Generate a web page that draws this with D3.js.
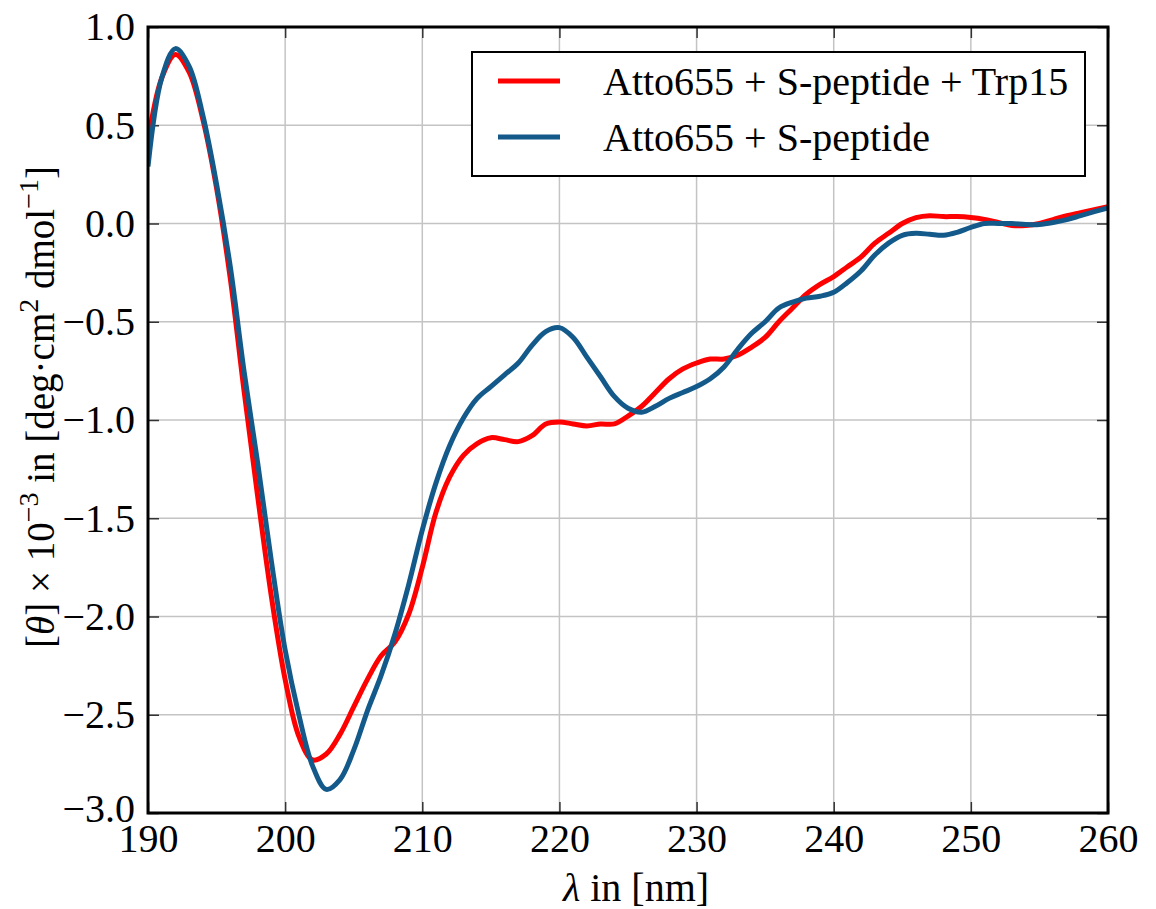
<!DOCTYPE html>
<html>
<head>
<meta charset="utf-8">
<script src="https://cdn.jsdelivr.net/npm/d3@7"></script>
<style>
  body { margin: 0; background: #fff; }
  svg { display: block; font-family: "Liberation Serif", "DejaVu Serif", serif; }
</style>
</head>
<body>
<div id="chart"></div>
<script>
// wavelength grid (nm)
const wavelengths = d3.range(190, 261);

// Atto655 + S-peptide + Trp15
const trp15 = [
  0.42, 0.74, 0.86, 0.77, 0.53, 0.18, -0.28, -0.85, -1.39, -1.90,
  -2.32, -2.61, -2.73, -2.70, -2.60, -2.46, -2.32, -2.20, -2.13, -1.99,
  -1.75, -1.47, -1.29, -1.18, -1.12, -1.09, -1.10, -1.11, -1.08, -1.02,
  -1.01, -1.02, -1.03, -1.02, -1.02, -0.98, -0.93, -0.86, -0.79, -0.74,
  -0.71, -0.69, -0.69, -0.67, -0.63, -0.58, -0.50, -0.43, -0.36, -0.31,
  -0.27, -0.22, -0.17, -0.10, -0.05, 0.00, 0.03, 0.04, 0.035, 0.035,
  0.03, 0.02, 0.005, -0.01, -0.01, 0.00, 0.02, 0.04, 0.055, 0.07,
  0.085
];

// Atto655 + S-peptide
const speptide = [
  0.29, 0.74, 0.89, 0.80, 0.55, 0.20, -0.22, -0.75, -1.22, -1.72,
  -2.17, -2.50, -2.76, -2.88, -2.83, -2.68, -2.48, -2.30, -2.09, -1.84,
  -1.56, -1.32, -1.13, -0.99, -0.89, -0.83, -0.77, -0.71, -0.62, -0.55,
  -0.53, -0.58, -0.68, -0.78, -0.88, -0.94, -0.96, -0.93, -0.89, -0.86,
  -0.83, -0.79, -0.73, -0.64, -0.56, -0.50, -0.43, -0.40, -0.38, -0.37,
  -0.35, -0.30, -0.24, -0.16, -0.10, -0.06, -0.05, -0.055, -0.06, -0.045,
  -0.02, 0.00, 0.00, 0.00, -0.005, -0.005, 0.005, 0.02, 0.04, 0.06,
  0.08
];

const xTicks = [190, 200, 210, 220, 230, 240, 250, 260];
const yTicks = [1.0, 0.5, 0.0, -0.5, -1.0, -1.5, -2.0, -2.5, -3.0];

const seriesNames = ["Atto655 + S-peptide + Trp15", "Atto655 + S-peptide"];
const seriesColors = ["#ff0000", "#135a8b"];
const seriesValues = [trp15, speptide];

const width = 1156, height = 909;
const margin = { top: 27, right: 48, bottom: 96, left: 148 };
const innerW = width - margin.left - margin.right;
const innerH = height - margin.top - margin.bottom;

const svg = d3.select("#chart").append("svg")
  .attr("width", width)
  .attr("height", height);

const g = svg.append("g").attr("transform", `translate(${margin.left},${margin.top})`);

const x = d3.scaleLinear().domain([190, 260]).range([0, innerW]);
const y = d3.scaleLinear().domain([-3, 1]).range([innerH, 0]);

// grid
g.append("g").selectAll("line")
  .data(xTicks.slice(1, -1)).enter().append("line")
  .attr("x1", d => x(d)).attr("x2", d => x(d))
  .attr("y1", 0).attr("y2", innerH)
  .attr("stroke", "#c4c4c4").attr("stroke-width", 1.5);
g.append("g").selectAll("line")
  .data(yTicks.slice(1, -1)).enter().append("line")
  .attr("x1", 0).attr("x2", innerW)
  .attr("y1", d => y(d)).attr("y2", d => y(d))
  .attr("stroke", "#c4c4c4").attr("stroke-width", 1.5);

// inward ticks on all four sides
const tickLen = 11;
const fmtY = d => d3.format(".1f")(d).replace("-", "\u2212");

g.append("g").call(d3.axisBottom(x).tickValues(xTicks).tickSize(-tickLen).tickPadding(11))
  .attr("transform", `translate(0,${innerH})`)
  .call(a => a.select(".domain").remove());
g.append("g").call(d3.axisTop(x).tickValues(xTicks).tickSize(-tickLen).tickFormat(""))
  .call(a => a.select(".domain").remove());
const yAxisG = g.append("g").call(d3.axisLeft(y).tickValues(yTicks).tickSize(-tickLen).tickPadding(13).tickFormat(fmtY))
  .call(a => a.select(".domain").remove());
g.append("g").call(d3.axisRight(y).tickValues(yTicks).tickSize(-tickLen).tickFormat(""))
  .attr("transform", `translate(${innerW},0)`)
  .call(a => a.select(".domain").remove());

g.selectAll(".tick line").attr("stroke", "#333").attr("stroke-width", 1.5);
g.selectAll(".tick text")
  .attr("font-family", "Liberation Serif, serif")
  .attr("font-size", 40)
  .attr("fill", "#000");

// lowest y label sits right on the corner; lift it a touch so it clears "190"
yAxisG.selectAll(".tick text").filter(d => d === -3.0).attr("dy", "0.2em");

// data lines
const line = d3.line()
  .x((d, i) => x(wavelengths[i]))
  .y(d => y(d))
  .curve(d3.curveCatmullRom);

svg.append("clipPath").attr("id", "clip")
  .append("rect").attr("width", innerW).attr("height", innerH);

g.append("g").attr("clip-path", "url(#clip)")
  .selectAll("path")
  .data(seriesValues).enter().append("path")
  .attr("d", d => line(d))
  .attr("fill", "none")
  .attr("stroke", (d, i) => seriesColors[i])
  .attr("stroke-width", 5)
  .attr("stroke-linejoin", "round");

// frame
g.append("rect")
  .attr("width", innerW).attr("height", innerH)
  .attr("fill", "none").attr("stroke", "#000").attr("stroke-width", 3);

// legend (upper right)
const legend = g.append("g").attr("transform", `translate(${innerW - 636},25)`);
legend.append("rect")
  .attr("width", 613).attr("height", 124)
  .attr("fill", "#fff").attr("stroke", "#000").attr("stroke-width", 2);
seriesNames.forEach((name, i) => {
  const row = legend.append("g").attr("transform", `translate(0,${29 + i * 56})`);
  row.append("line")
    .attr("x1", 26).attr("x2", 88)
    .attr("stroke", seriesColors[i]).attr("stroke-width", 5);
  row.append("text")
    .attr("x", 131).attr("y", 14)
    .attr("font-size", 40)
    .text(name);
});

// axis titles
svg.append("text")
  .attr("x", 636)
  .attr("y", 901)
  .attr("text-anchor", "middle")
  .attr("font-size", 40)
  .call(t => {
    t.append("tspan").attr("font-style", "italic").text("\u03bb");
    t.append("tspan").text(" in [nm]");
  });

const yTitle = svg.append("text")
  .attr("transform", `translate(54,407) rotate(-90)`)
  .attr("text-anchor", "middle")
  .attr("font-size", 39);
yTitle.append("tspan").text("[");
yTitle.append("tspan").attr("font-style", "italic").text("\u03b8");
yTitle.append("tspan").text("] \u00d7 10");
yTitle.append("tspan").attr("dy", -16).attr("font-size", 28).text("\u22123");
yTitle.append("tspan").attr("dy", 16).text(" in [deg\u00b7cm");
yTitle.append("tspan").attr("dy", -16).attr("font-size", 28).text("2");
yTitle.append("tspan").attr("dy", 16).text(" dmol");
yTitle.append("tspan").attr("dy", -16).attr("font-size", 28).text("\u22121");
yTitle.append("tspan").attr("dy", 16).text("]");
</script>
</body>
</html>
